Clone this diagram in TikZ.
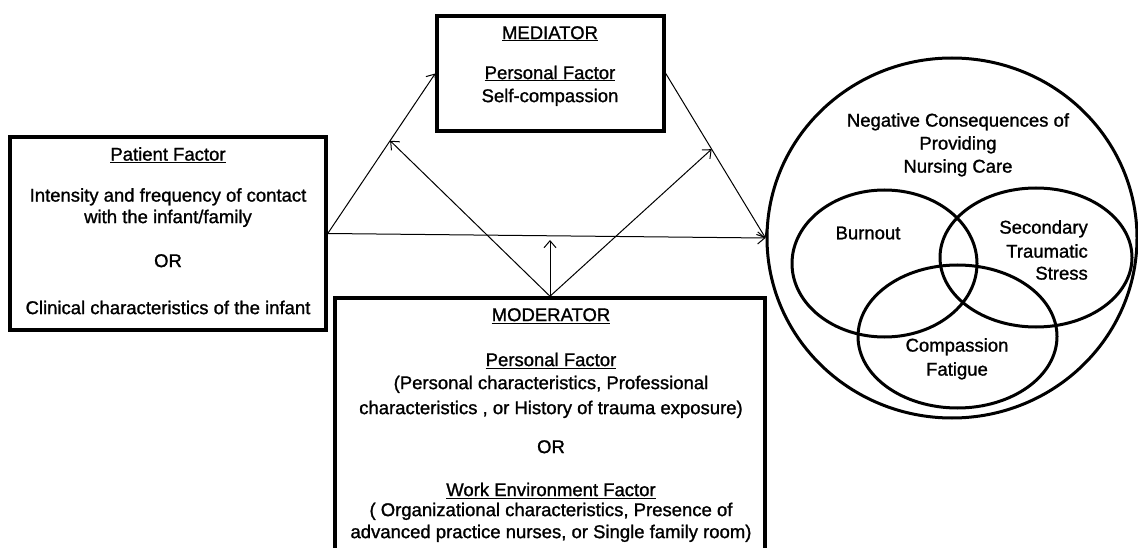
\documentclass[tikz,border=0pt]{standalone}
\usepackage{fontspec}
\setmainfont{Liberation Sans}[BoldFont={Liberation Sans},BoldFeatures={FakeBold=1.2}]
\usetikzlibrary{shapes.geometric,arrows.meta}

\tikzstyle{factorbox} = [draw,line width=3.5pt,rectangle,inner sep=0pt]
\tikzstyle{boxtext} = [align=center,inner sep=0pt,font=\fontsize{18.5}{21.5}\selectfont\bfseries]
\tikzstyle{outcome} = [draw,line width=3pt,ellipse,inner sep=0pt]
\tikzstyle{arrowline} = [-{Straight Barb[length=7pt,width=12pt]},line width=1pt]

\begin{document}
\begin{tikzpicture}[x=1pt,y=-1pt]
      \useasboundingbox[fill=white] (0,0) rectangle (1138,548);
      % boxes
      \node[factorbox, minimum width=316pt, minimum height=193pt] (pat) at (168,233.5) {};
      \node[factorbox, minimum width=227pt, minimum height=115pt] (med) at (550.5,73.5) {};
      \node[factorbox, minimum width=430pt, minimum height=270pt] (mod) at (550,433) {};
      % outcomes
      \node[outcome, minimum width=370pt, minimum height=360pt] (neg) at (952,238) {};
      \foreach \nodename/\x/\y/\w/\h in {
        burn/884.5/263.5/185/147,
        sts/1036/257.5/192/139,
        cf/957.5/336.5/199/143}
      {
        \node[outcome, minimum width=\w pt, minimum height=\h pt] (\nodename) at (\x,\y) {};
      };
      % texts
      \node[boxtext, anchor=north] (pattext) at (168,147) {\underline{Patient Factor}\\[19.5pt]
        Intensity and frequency of contact\\ with the infant/family\\[22.5pt]
        OR\\[25.5pt] Clinical characteristics of the infant};
      \node[boxtext, anchor=north] (medtext) at (550,26) {\underline{MEDIATOR}\\[18.5pt]
        \underline{Personal Factor}\\[1.5pt] Self-compassion};
      \node[boxtext, anchor=north] (modtext) at (551,308) {\underline{MODERATOR}\\[23.5pt]
        \underline{Personal Factor}\\[1.5pt] (Personal characteristics, Professional\\[3.5pt]
        characteristics , or History of trauma exposure)\\[17.5pt]
        OR\\[21.5pt] \underline{Work Environment Factor}\\[-1.5pt]
        ( Organizational characteristics, Presence of\\[0.5pt]
        advanced practice nurses, or Single family room)};
      \node[boxtext, anchor=north] (negtext) at (958,113) {Negative Consequences of\\[1.5pt]
        Providing\\[1.5pt] Nursing Care};
      \node[boxtext] (burntext) at (868,233) {Burnout};
      \node[boxtext, align=right, anchor=north east] (ststext) at (1088,220) {Secondary\\[2.5pt]
        Traumatic\\[0.5pt] Stress};
      \node[boxtext, anchor=north] (cftext) at (957,338) {Compassion\\[2.5pt] Fatigue};
      %edges
      \path (pat.east) -- (med.west) coordinate[pos=0.58] (patmed);
      \path (med.east) -- (neg.west) coordinate[pos=0.46] (medneg);
      \coordinate (modtip) at (550,240);
      \foreach \startnode/\endnode in {pat.east/med.west, pat.east/neg.west, med.east/neg.west,
        mod.north/patmed, mod.north/medneg, mod.north/modtip}
      {
        \draw[arrowline] (\startnode) -- (\endnode);
      };
\end{tikzpicture}
\end{document}
